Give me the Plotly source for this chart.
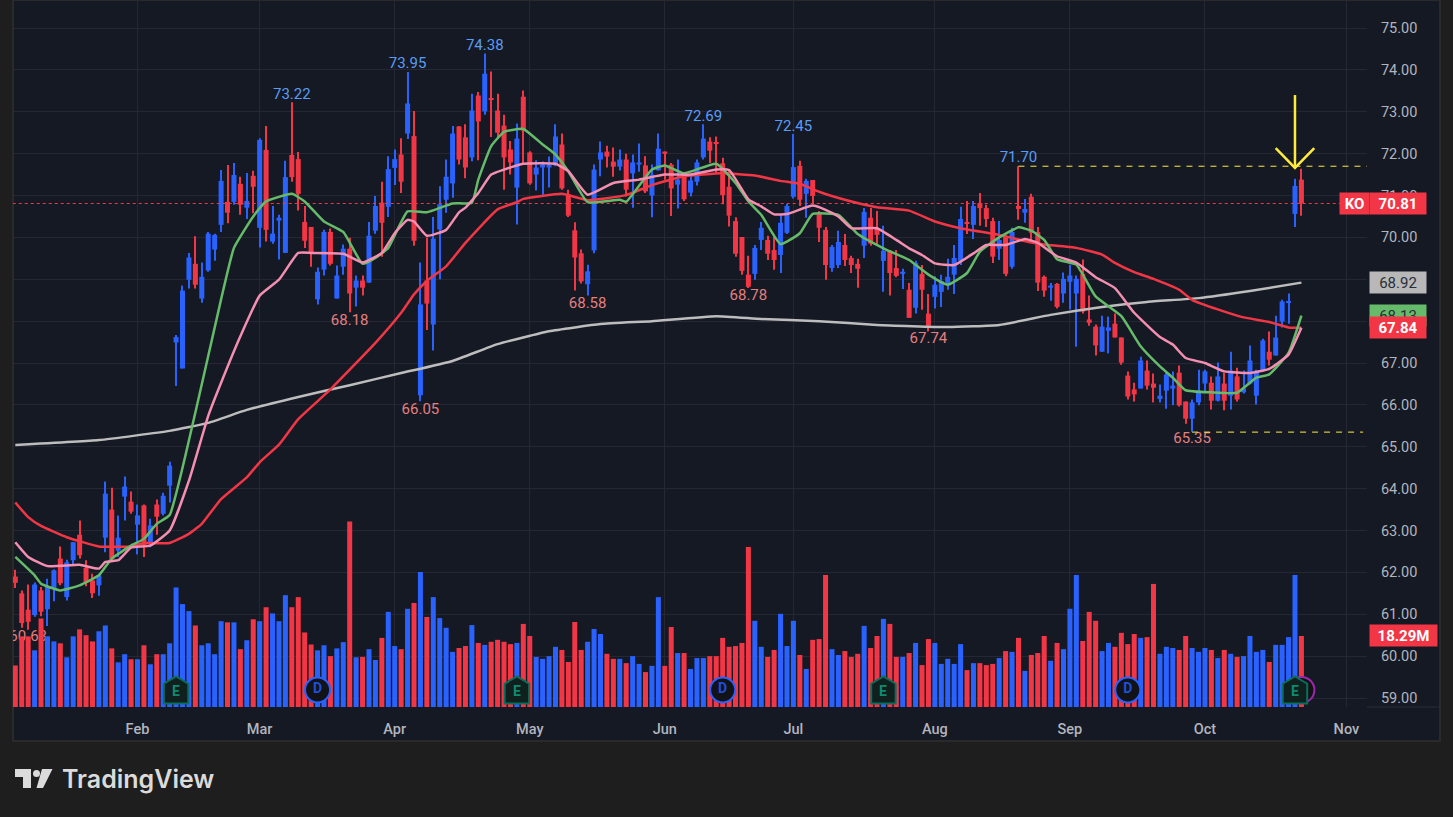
import plotly.graph_objects as go

# KO daily candles (one entry per trading day)
OPEN = [61.90,61.50,61.11,60.98,61.57,61.12,61.63,62.33,61.41,62.29,62.90,62.11,61.81,61.69,62.83,63.50,62.52,63.81,63.69,63.14,
        63.60,62.67,63.62,63.40,64.07,67.49,66.87,68.99,69.37,68.54,69.21,69.71,70.30,70.85,70.85,71.28,70.71,71.47,70.23,72.09,
        69.90,70.40,69.63,71.97,71.87,70.37,70.25,68.52,69.23,70.13,68.54,69.30,69.73,68.80,68.97,68.92,70.16,70.83,70.73,71.66,
        71.98,72.48,72.42,66.23,68.97,67.92,70.19,70.90,71.29,72.65,72.39,71.91,73.39,73.01,73.32,73.03,72.67,72.10,71.19,73.36,
        72.03,71.50,71.67,71.67,71.72,72.22,71.02,70.17,69.62,68.88,69.69,71.86,72.05,71.81,71.69,71.86,71.53,71.74,71.72,71.00,
        71.60,72.05,71.74,71.26,71.45,71.07,71.33,71.91,72.29,72.27,71.77,71.21,70.39,70.01,69.11,69.13,69.94,69.94,69.70,69.58,
        70.11,70.97,71.71,71.04,71.37,70.56,70.18,69.27,69.34,69.82,69.51,69.37,69.80,70.47,70.22,69.44,69.68,69.27,69.13,68.75,
        68.32,69.13,68.18,68.58,68.70,68.87,69.11,69.44,70.37,70.30,70.82,70.70,70.39,69.73,70.01,69.30,70.75,70.59,70.97,70.13,
        69.06,68.80,68.89,68.66,68.94,68.66,69.13,68.04,67.87,67.27,67.77,67.94,67.61,66.70,66.37,66.39,66.82,66.51,66.14,66.34,
        66.39,66.77,66.08,65.67,66.06,66.51,66.53,66.10,66.51,66.22,66.68,66.30,66.51,66.22,66.82,67.27,67.18,67.99,68.45,70.56,
        71.38]
HIGH = [62.06,61.57,61.71,61.76,61.65,61.85,62.07,62.62,62.30,62.72,63.24,62.29,61.97,61.95,64.17,64.02,63.36,64.29,63.93,63.62,
        63.62,63.28,63.74,63.90,64.64,67.67,68.85,69.63,70.03,69.40,70.13,70.09,71.61,71.73,71.78,71.45,71.54,71.59,72.37,72.66,
        70.75,70.54,71.83,73.23,72.04,70.75,70.25,69.28,70.18,70.21,69.33,69.83,69.99,69.09,69.09,70.37,70.99,71.33,71.94,72.10,
        72.37,73.95,73.02,69.40,70.00,70.49,71.22,71.86,72.66,72.66,72.70,73.43,73.47,74.39,73.96,73.43,72.93,72.30,72.72,73.51,
        72.06,71.84,71.81,71.93,72.70,72.48,71.14,70.36,69.71,69.35,71.74,72.29,72.19,72.15,72.10,72.00,71.98,72.24,71.94,71.74,
        72.48,72.05,71.78,71.86,71.45,71.50,71.86,72.70,72.39,72.41,71.90,71.63,70.48,70.01,69.56,69.82,70.37,70.04,70.02,70.54,
        70.80,72.47,71.83,71.40,71.37,70.63,70.25,69.82,70.16,70.08,69.56,69.49,70.70,70.70,70.63,70.28,69.70,69.70,69.25,68.91,
        69.44,69.34,68.65,69.07,69.11,69.49,69.82,70.73,70.87,70.87,71.06,70.78,70.47,70.39,70.06,70.23,71.70,70.92,71.04,70.25,
        69.09,68.91,68.91,69.16,69.35,69.09,69.47,68.61,67.92,68.13,68.11,68.18,67.61,66.80,66.53,67.15,67.06,66.75,66.49,66.76,
        66.80,66.94,66.08,66.13,66.84,66.84,66.68,67.01,66.76,67.27,66.89,66.82,67.42,66.84,67.58,67.75,68.13,68.51,68.66,71.40,
        71.64]
LOW = [61.63,60.68,60.63,60.94,60.95,60.72,61.31,61.69,61.33,62.17,62.33,61.67,61.39,61.44,62.48,62.30,62.37,63.24,63.40,62.43,
       62.37,62.60,62.90,63.36,63.67,66.45,66.87,68.78,68.78,68.44,69.18,69.44,70.13,70.34,70.78,70.54,70.44,70.58,69.76,69.90,
       69.85,69.47,69.63,71.33,70.64,69.75,69.30,68.40,69.09,69.33,68.54,69.11,68.21,68.35,68.61,68.92,70.09,69.54,70.49,71.25,
       71.06,72.35,69.80,66.09,67.79,67.30,69.00,70.59,70.95,71.74,71.41,71.82,71.84,72.93,72.40,72.40,71.14,71.50,70.31,71.74,
       71.26,71.12,71.02,71.19,71.70,71.14,70.49,68.73,68.90,68.61,69.62,71.46,71.67,71.45,71.60,70.98,70.71,71.57,71.06,70.48,
       71.60,71.38,70.51,70.69,70.87,70.98,71.24,71.86,71.78,71.54,70.79,70.26,69.54,69.11,68.79,68.99,69.70,69.46,69.23,69.15,
       70.08,70.93,70.75,70.47,70.80,69.89,68.99,69.18,69.27,69.32,69.15,68.80,69.51,69.80,69.82,68.70,68.61,69.05,68.77,68.08,
       68.18,68.27,67.75,68.30,68.34,68.75,68.65,69.34,70.08,69.96,70.28,70.25,69.39,69.46,69.07,69.25,70.42,70.35,69.94,68.72,
       68.58,68.49,68.30,68.44,68.28,67.39,68.18,67.89,67.18,67.27,67.23,67.61,66.96,66.13,66.08,66.39,66.37,66.06,66.06,65.91,
       65.99,65.96,65.55,65.36,65.99,66.32,65.89,66.08,65.87,65.89,66.08,66.27,66.49,66.01,66.80,66.94,67.18,67.85,67.94,70.25,
       70.52]
CLOSE = [61.75,60.79,60.82,61.71,61.06,61.65,62.05,61.74,62.24,62.72,62.41,61.76,61.50,61.93,63.88,62.33,62.83,64.05,63.45,63.36,
         62.64,63.12,63.33,63.83,64.55,67.62,68.73,69.52,68.87,69.06,70.09,70.06,71.35,70.59,71.49,70.78,70.87,71.21,72.33,70.18,
         70.09,70.47,71.44,71.44,71.04,69.92,69.61,69.18,70.13,69.37,69.09,69.73,68.66,68.97,68.80,70.04,70.75,70.35,71.63,71.87,
         71.33,73.20,69.92,68.40,68.42,69.97,70.79,71.45,72.48,71.86,71.67,73.03,72.77,73.91,73.29,72.50,71.91,71.79,72.36,72.55,
         71.29,71.67,71.74,71.74,72.41,71.17,70.52,69.52,68.95,69.19,71.62,72.03,71.93,71.69,71.86,71.14,71.79,71.79,71.10,71.50,
         72.12,72.00,71.17,71.38,70.91,71.36,71.79,72.36,72.07,72.24,71.01,70.52,69.61,69.20,68.82,69.75,70.23,69.61,69.46,70.35,
         70.75,71.68,70.90,71.35,70.99,70.23,69.34,69.77,69.89,69.46,69.34,69.25,70.61,69.85,70.06,69.68,69.15,69.08,69.18,68.08,
         69.39,68.75,67.89,68.87,68.96,69.06,69.51,70.44,70.32,70.75,70.70,70.44,69.54,69.94,69.13,70.13,70.68,70.68,70.11,68.92,
         68.73,68.85,68.34,69.01,69.09,69.01,68.23,67.96,67.42,67.87,67.85,67.61,67.01,66.20,66.25,67.06,66.46,66.41,66.22,66.72,
         66.46,65.99,65.67,66.06,66.34,66.80,66.10,66.68,66.10,66.82,66.13,66.39,67.06,66.82,67.54,67.08,67.61,68.47,68.47,71.23,
         70.81]

# Volume in millions
VOLUME = [10.7,18.2,18.2,14.6,22.8,18.2,16.9,16.4,12.8,18.2,20.0,18.5,16.9,19.5,21.0,15.1,11.5,13.6,12.3,12.3,
          15.9,11.0,13.6,13.6,16.4,30.8,26.5,24.7,21.0,15.9,16.4,13.6,22.1,21.8,21.8,14.9,17.2,22.6,22.1,25.7,
          24.1,22.1,28.8,25.7,28.3,19.2,16.1,14.6,15.9,13.1,15.1,16.7,47.8,12.8,12.9,14.9,12.1,17.8,24.5,15.7,
          14.9,25.3,26.8,34.8,23.2,28.3,22.9,20.4,14.2,15.2,15.7,21.1,16.5,16.0,16.8,17.3,16.8,16.2,16.5,21.4,
          18.3,12.9,12.4,13.1,15.5,14.7,11.6,21.9,14.7,16.8,20.1,18.8,13.7,12.4,12.4,11.3,13.1,11.1,9.0,10.6,
          28.3,10.6,20.6,13.9,13.9,9.8,12.6,12.6,13.1,13.1,17.8,15.5,15.7,16.5,41.2,22.2,15.5,12.9,14.7,24.0,
          15.7,22.2,13.4,9.8,17.3,17.5,34.0,14.9,13.4,14.4,12.9,13.7,20.9,15.2,18.3,22.7,21.4,12.9,12.9,13.9,
          16.5,10.8,17.5,16.5,11.1,12.4,11.1,16.2,9.5,11.3,11.3,10.8,11.1,12.6,14.4,14.2,17.8,9.3,13.4,13.9,
          18.3,11.9,16.5,14.9,25.3,34.0,17.0,24.5,22.2,14.4,16.5,15.5,19.1,16.2,18.8,17.8,18.0,31.7,13.7,15.5,
          15.2,14.7,18.3,15.2,14.2,15.2,14.7,12.6,14.7,13.7,12.9,13.1,18.3,14.2,14.7,11.6,16.0,16.0,18.0,34.0,
          18.29]

# Moving averages, sampled at the days where they could be read
GREEN_DAY = [0,3,4,7,10,13,15,18,20,22,24,28,32,34,37,39,43,45,48,51,54,56,58,61,64,68,71,72,74,76,79,82,84,86,89,94,95,99,101,104,
             109,112,114,116,119,122,124,128,131,135,139,142,145,148,150,153,156,158,160,162,165,168,172,175,178,180,182,186,190,193,195,198,200]
GREEN_MA = [62.37,61.93,61.73,61.57,61.69,61.93,62.33,62.64,62.80,63.16,63.37,65.82,68.52,69.75,70.50,70.86,71.04,70.86,70.38,70.13,
            69.37,69.51,69.75,70.62,70.60,70.81,70.83,71.38,72.18,72.52,72.59,72.22,71.98,71.58,70.84,70.90,70.85,71.62,71.72,71.53,
            71.76,71.30,70.86,70.54,69.84,70.10,70.56,70.54,70.08,69.74,69.46,69.11,68.87,69.15,69.66,70.00,70.24,70.16,69.94,69.48,
            69.35,68.59,68.12,67.40,66.92,66.65,66.35,66.30,66.29,66.65,66.73,67.24,68.13]

PINK_DAY = [0,2,5,10,13,14,16,18,21,24,27,30,32,35,38,41,44,46,51,54,57,59,61,62,64,67,69,70,72,74,76,79,84,86,89,93,97,101,105,109,
            111,114,116,118,120,124,126,128,130,134,137,139,141,143,146,149,151,154,157,159,162,165,168,171,174,178,180,182,185,188,192,195,198,200]
PINK_MA = [62.72,62.37,62.15,62.18,62.09,62.25,62.29,62.59,62.64,63.00,64.19,65.74,66.53,67.64,68.61,68.99,69.63,69.63,69.61,69.40,
           69.63,70.10,70.42,70.38,70.04,70.18,70.60,70.71,71.06,71.50,71.62,71.76,71.76,71.58,71.02,71.30,71.38,71.50,71.50,71.62,
           71.61,70.91,70.74,70.55,70.56,70.76,70.66,70.50,70.22,70.22,69.94,69.74,69.58,69.38,69.34,69.62,69.82,69.82,69.96,69.87,
           69.55,69.40,69.05,68.79,68.20,67.62,67.44,67.12,67.00,66.80,66.76,66.86,67.20,67.84]

RED_DAY = [0,2,4,8,13,18,20,24,27,29,32,36,38,41,44,49,56,60,62,64,67,70,75,78,79,85,89,95,99,104,110,115,119,122,125,129,134,139,143,147,
           153,158,160,165,169,171,174,177,181,183,187,191,195,198,200]
RED_MA = [63.67,63.32,63.11,62.84,62.62,62.62,62.70,62.70,62.92,63.16,63.75,64.27,64.63,65.05,65.66,66.37,67.48,68.20,68.64,68.96,
          69.31,69.87,70.67,70.84,70.92,71.04,70.89,71.01,71.25,71.46,71.53,71.48,71.35,71.28,71.09,70.90,70.72,70.64,70.38,70.22,
          70.06,69.88,69.83,69.75,69.59,69.39,69.17,69.01,68.75,68.51,68.28,68.09,67.98,67.85,67.84]

WHITE_DAY = [0,13,24,30,36,44,52,60,68,75,83,91,99,109,116,125,134,145,153,161,169,176,184,192,200]
WHITE_MA = [65.04,65.16,65.38,65.57,65.88,66.19,66.47,66.76,67.05,67.45,67.76,67.93,68.00,68.12,68.05,68.00,67.91,67.86,67.91,68.15,
            68.34,68.46,68.55,68.72,68.92]

# High and low labels on the chart
HIGH_DAY = [43,61,73,107,121,156]
HIGH_VAL = [73.22,73.95,74.38,72.69,72.45,71.70]
LOW_DAY = [52,63,89,114,142,183]
LOW_VAL = [68.18,66.05,68.58,68.78,67.74,65.35]

MONTH_DAY = [19,38,59,80,101,121,143,164,185,207]
MONTHS = ["Feb","Mar","Apr","May","Jun","Jul","Aug","Sep","Oct","Nov"]
PRICE_TICKS = list(range(59, 76))
HIDDEN_TICKS = [68, 69]  # these sit fully under the price tags

EARNINGS_DAY = [25,78,135,199]
DIVIDEND_DAY = [47,110,173]

LAST_PRICE = 70.81
BLUE = "#2962FF"
RED = "#F23645"
YELLOW = "#FFEB3B"
W, H = 1453, 817


def px(x):
    return x / W


def py(y):
    return 1 - y / H


days = list(range(len(CLOSE)))
colors = [BLUE if c >= o else RED for o, c in zip(OPEN, CLOSE)]

fig = go.Figure()

# last price dotted line
fig.add_trace(go.Scatter(x=[-0.4, 210.2], y=[LAST_PRICE, LAST_PRICE], mode="lines",
                         line=dict(color=RED, width=1, dash="dot"), hoverinfo="skip"))
# low label that sits behind the volume bars at the left edge
fig.add_trace(go.Scatter(x=[2], y=[60.63], mode="text", text=["60.63"], textposition="bottom center",
                         textfont=dict(color="#E57F7F", size=15, family="Roboto"), hoverinfo="skip"))

# candles as wick + body bars, plotly's own Candlestick bodies come out too thin at this spacing
fig.add_trace(go.Bar(x=days, base=LOW, y=[h - l for h, l in zip(HIGH, LOW)], width=0.16,
                     marker=dict(color=colors, line=dict(width=0)), hoverinfo="skip"))
fig.add_trace(go.Bar(x=days, base=[min(o, c) for o, c in zip(OPEN, CLOSE)],
                     y=[abs(c - o) for o, c in zip(OPEN, CLOSE)], width=0.78,
                     marker=dict(color=colors, line=dict(width=0)), hoverinfo="skip"))

for xs, ys, color in [(WHITE_DAY, WHITE_MA, "#BDBDBD"), (RED_DAY, RED_MA, RED),
                      (GREEN_DAY, GREEN_MA, "#66BB6A"), (PINK_DAY, PINK_MA, "#F48FB1")]:
    fig.add_trace(go.Scatter(x=xs, y=ys, mode="lines", hoverinfo="skip",
                             line=dict(color=color, width=2.5, shape="spline", smoothing=0.4)))

# high/low value labels
fig.add_trace(go.Scatter(x=HIGH_DAY, y=HIGH_VAL, mode="text", text=[f"{v:.2f}" for v in HIGH_VAL],
                         textposition="top center", textfont=dict(color="#5B9CF6", size=15, family="Roboto"),
                         hoverinfo="skip"))
fig.add_trace(go.Scatter(x=LOW_DAY, y=LOW_VAL, mode="text", text=[f"{v:.2f}" for v in LOW_VAL],
                         textposition="bottom center", textfont=dict(color="#E57F7F", size=15, family="Roboto"),
                         hoverinfo="skip"))

# yellow dashed levels
fig.add_trace(go.Scatter(x=[156, 210.2], y=[71.70, 71.70], mode="lines",
                         line=dict(color=YELLOW, width=1, dash="6px,6px"), hoverinfo="skip"))
fig.add_trace(go.Scatter(x=[183, 209.6], y=[65.35, 65.35], mode="lines",
                         line=dict(color=YELLOW, width=1, dash="6px,6px"), hoverinfo="skip"))
# yellow arrow
fig.add_trace(go.Scatter(x=[199, 199, None, 196, 199, 202], y=[73.40, 71.66, None, 72.13, 71.66, 72.13], mode="lines",
                         line=dict(color=YELLOW, width=2.5), hoverinfo="skip"))

# volume on its own scale, on top of the price layer
fig.add_trace(go.Bar(x=days, y=VOLUME, yaxis="y2", width=0.78, marker=dict(color=colors, line=dict(width=0)),
                     hoverinfo="skip"))

# event badges
fig.add_trace(go.Scatter(x=[200], y=[4.4], yaxis="y2", mode="markers", hoverinfo="skip",
                         marker=dict(symbol="circle", size=26, color="#131313", line=dict(color="#9C27B0", width=2))))
fig.add_trace(go.Scatter(x=DIVIDEND_DAY, y=[4.4] * len(DIVIDEND_DAY), yaxis="y2", mode="markers+text",
                         text=["D"] * len(DIVIDEND_DAY), textposition="middle center",
                         textfont=dict(color="#1E4FD8", size=14, family="Roboto", weight="bold"), hoverinfo="skip",
                         marker=dict(symbol="circle", size=25, color="#111318", line=dict(color=BLUE, width=2))))

# earnings badge is a little house, no marker symbol for that
house_shapes = []
for d in EARNINGS_DAY:
    house_shapes.append(dict(type="path", xref="x", yref="y2", fillcolor="#10201F", layer="above",
                             line=dict(color="#0B6E5C", width=2),
                             path=f"M{d - 1.9},0.9 L{d + 1.9},0.9 L{d + 1.9},6.0 L{d},7.9 L{d - 1.9},6.0 Z"))
    fig.add_annotation(x=d, xref="x", y=4.0, yref="y2", text="E", showarrow=False,
                       font=dict(color="#0E8A70", size=14, family="Roboto", weight="bold"))


# right hand price tags
def tag(text, y, bg, fg, x0=1369, width=54, yref="y", weight="bold"):
    fig.add_annotation(x=px(x0), xref="paper", y=y, yref=yref, xanchor="left", yanchor="middle", text=text,
                       showarrow=False, bgcolor=bg, width=width, height=19, borderpad=1,
                       font=dict(color=fg, size=15, family="Roboto", weight=weight))


tag("KO", LAST_PRICE, RED, "#FFFFFF", x0=1339, width=27)
tag(f"{LAST_PRICE:.2f}", LAST_PRICE, RED, "#FFFFFF")
tag("68.92", 68.92, "#B8B8B8", "#2A2E39", weight="normal")
tag("68.13", 68.13, "#66BB6A", "#2A2E39", weight="normal")
tag("67.84", 67.84, RED, "#FFFFFF")
tag("18.29M", 18.29, RED, "#FFFFFF", width=65, yref="y2")

# logo
fig.add_annotation(x=px(60), xref="paper", y=py(779), yref="paper", xanchor="left", yanchor="middle",
                   text="TradingView", showarrow=False,
                   font=dict(color="#DBDBDB", size=25, family="Inter", weight=600))

panel = dict(type="rect", xref="paper", yref="paper", x0=px(13), x1=px(1440), y0=py(741), y1=py(0),
             fillcolor="#151924", line=dict(color="#2A2A2A", width=2), layer="below")
logo_bar = dict(type="path", xref="paper", yref="paper", fillcolor="#DBDBDB", line=dict(width=0),
                path=f"M{px(15)},{py(769)} L{px(31)},{py(769)} L{px(31)},{py(788)} L{px(23)},{py(788)} "
                     f"L{px(23)},{py(777)} L{px(15)},{py(777)} Z")
logo_dot = dict(type="circle", xref="paper", yref="paper", fillcolor="#DBDBDB", line=dict(width=0),
                x0=px(33), x1=px(40), y0=py(777), y1=py(770))
logo_slash = dict(type="path", xref="paper", yref="paper", fillcolor="#DBDBDB", line=dict(width=0),
                  path=f"M{px(42)},{py(769)} L{px(52.5)},{py(769)} L{px(43)},{py(788)} L{px(36.5)},{py(788)} Z")
axis_line = dict(type="line", xref="paper", yref="paper", x0=px(1367), x1=px(1440), y0=py(707), y1=py(707),
                 line=dict(color="#2A2E39", width=1))

fig.update_layout(
    width=W, height=H, autosize=False,
    margin=dict(l=0, r=0, t=0, b=0),
    paper_bgcolor="#1E1E1E", plot_bgcolor="rgba(0,0,0,0)",
    showlegend=False, barmode="overlay",
    shapes=[panel, logo_bar, logo_dot, logo_slash, axis_line] + house_shapes,
    xaxis=dict(domain=[px(13), px(1367)], range=[-0.36, 210.2], tickvals=MONTH_DAY, ticktext=MONTHS,
               showgrid=True, gridcolor="#252834", gridwidth=1, zeroline=False, showline=False,
               ticks="outside", ticklen=9, tickcolor="rgba(0,0,0,0)",
               tickfont=dict(color="#B2B5BE", size=14.5, family="Roboto", weight=500)),
    yaxis=dict(domain=[py(707), 1], range=[58.785, 75.67], side="right", tickvals=PRICE_TICKS,
               ticktext=["" if v in HIDDEN_TICKS else f"{v:.2f}" for v in PRICE_TICKS],
               showgrid=True, gridcolor="#252834", gridwidth=1,
               zeroline=False, showline=False, ticks="outside", ticklen=10, tickcolor="rgba(0,0,0,0)",
               tickfont=dict(color="#B2B5BE", size=14.5, family="Roboto")),
    yaxis2=dict(domain=[py(707), 1], range=[0, 182.1], overlaying="y", side="right", visible=False),
)

fig.write_html("out.html", config={"displayModeBar": False},
               post_script="document.body.style.margin='0';document.documentElement.style.overflow='hidden';")
